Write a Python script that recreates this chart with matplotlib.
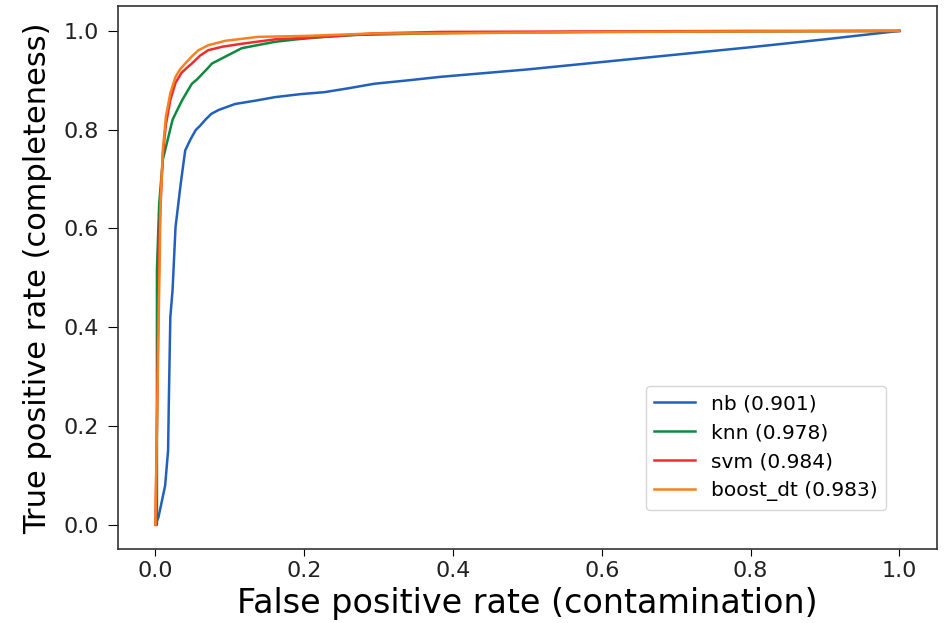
import numpy as np
import matplotlib
matplotlib.use("Agg")
import matplotlib.pyplot as plt

# ROC curves (false positive rate, true positive rate) per classifier
nb_fpr = [0.0, 0.004, 0.013, 0.017, 0.018, 0.020, 0.023, 0.027, 0.034, 0.040,
          0.047, 0.054, 0.060, 0.067, 0.075, 0.085, 0.107, 0.135, 0.161, 0.195,
          0.227, 0.260, 0.294, 0.340, 0.383, 0.5, 0.6, 0.7, 0.8, 0.9, 1.0]
nb_tpr = [0.0, 0.015, 0.079, 0.15, 0.25, 0.42, 0.475, 0.603, 0.691, 0.758,
          0.780, 0.799, 0.808, 0.82, 0.832, 0.84, 0.852, 0.859, 0.866, 0.872,
          0.876, 0.884, 0.893, 0.900, 0.907, 0.922, 0.937, 0.952, 0.967, 0.983, 1.0]

knn_fpr = [0.0, 0.002, 0.002, 0.005, 0.010, 0.016, 0.023, 0.030, 0.036, 0.043,
           0.049, 0.056, 0.063, 0.070, 0.076, 0.094, 0.116, 0.140, 0.161, 0.190,
           0.227, 0.272, 0.4, 0.6, 0.8, 1.0]
knn_tpr = [0.0, 0.0, 0.515, 0.65, 0.74, 0.777, 0.82, 0.842, 0.86, 0.878,
           0.893, 0.902, 0.913, 0.924, 0.934, 0.948, 0.965, 0.972, 0.978, 0.983,
           0.988, 0.992, 0.996, 0.998, 0.999, 1.0]

svm_fpr = [0.0, 0.002, 0.004, 0.006, 0.010, 0.014, 0.020, 0.027, 0.035, 0.042,
           0.049, 0.060, 0.071, 0.090, 0.116, 0.161, 0.227, 0.294, 0.383, 0.6,
           0.8, 1.0]
svm_tpr = [0.0, 0.2, 0.45, 0.62, 0.75, 0.81, 0.86, 0.895, 0.915, 0.925,
           0.934, 0.950, 0.961, 0.968, 0.974, 0.983, 0.988, 0.995, 0.998, 0.999,
           1.0, 1.0]

boost_fpr = [0.0, 0.002, 0.005, 0.007, 0.010, 0.014, 0.020, 0.027, 0.033, 0.040,
             0.050, 0.058, 0.071, 0.094, 0.138, 0.205, 0.294, 0.383, 0.6, 0.8, 1.0]
boost_tpr = [0.0, 0.2, 0.475, 0.657, 0.76, 0.826, 0.874, 0.907, 0.922, 0.934,
             0.950, 0.961, 0.971, 0.980, 0.988, 0.990, 0.995, 0.995, 0.998, 0.999, 1.0]

names = ["nb", "knn", "svm", "boost_dt"]
aucs = [0.901, 0.978, 0.984, 0.983]
colors = ["#2160bd", "#0e8a3e", "#ee2c30", "#f7801f"]

curves = [(nb_fpr, nb_tpr), (knn_fpr, knn_tpr), (svm_fpr, svm_tpr), (boost_fpr, boost_tpr)]

fig = plt.figure(figsize=(9.46, 6.23), dpi=100)
ax = fig.add_axes([0.125, 0.118, 0.865, 0.872])

for (fpr, tpr), name, auc, c in zip(curves, names, aucs, colors):
    ax.plot(fpr, tpr, color=c, lw=1.8, label="%s (%.3f)" % (name, auc))

ax.set_xlabel("False positive rate (contamination)", fontsize=24, labelpad=4)
ax.set_ylabel("True positive rate (completeness)", fontsize=22, labelpad=8)
ax.tick_params(labelsize=16, labelcolor="#222222")
ax.tick_params(axis="x", length=5)
ax.tick_params(axis="y", length=7, pad=7)
ax.set_xticks(np.arange(0, 1.01, 0.2))
ax.set_yticks(np.arange(0, 1.01, 0.2))
for s in ax.spines.values():
    s.set_color("#333333")
    s.set_linewidth(1.2)

ax.legend(loc="lower right", bbox_to_anchor=(0.95, 0.055), fontsize=14.5)

fig.savefig("out.png", dpi=100)
